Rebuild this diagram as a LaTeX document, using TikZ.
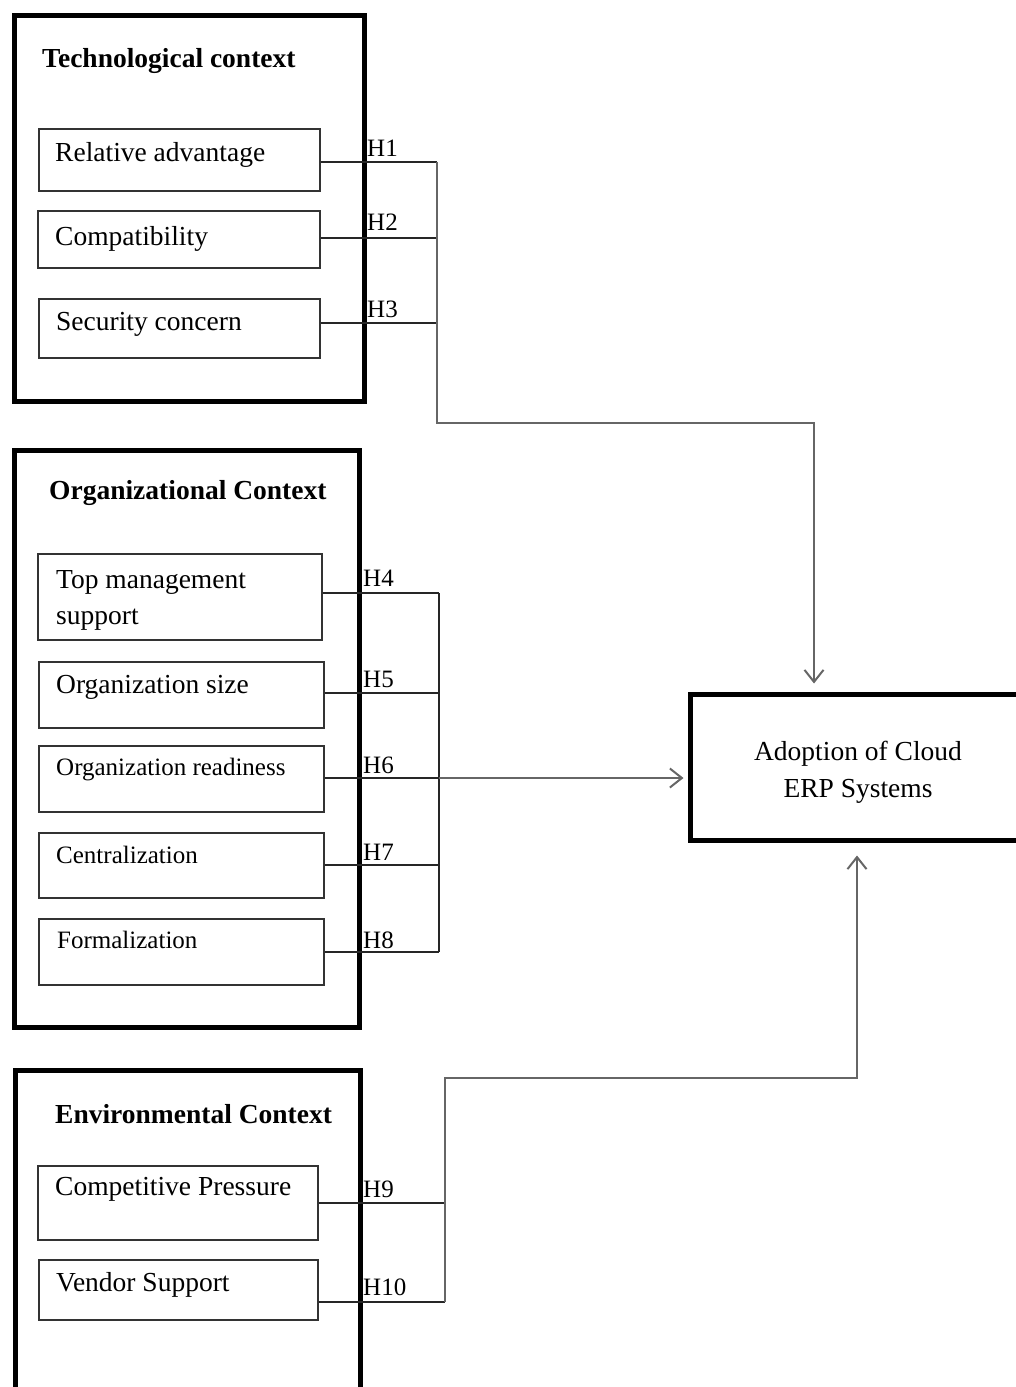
\documentclass[tikz,border=0pt]{standalone}
\usepackage{fontspec}
\setmainfont{Liberation Serif}
\usetikzlibrary{arrows.meta}
\begin{document}
\begin{tikzpicture}[x=1pt,y=-1pt,
  ctxbox/.style={draw=black, line width=5pt, anchor=north west, inner sep=0pt},
  itembox/.style={draw=black!80, line width=1.8pt, anchor=north west, inner sep=0pt},
  ttl/.style={anchor=base west, inner sep=0pt, font=\fontsize{27.5}{33}\selectfont\bfseries},
  itm/.style={anchor=base west, inner sep=0pt, font=\fontsize{27.5}{35}\selectfont},
  itms/.style={anchor=base west, inner sep=0pt, font=\fontsize{25}{30}\selectfont},
  hlab/.style={anchor=base west, inner sep=0pt, font=\fontsize{25}{30}\selectfont},
  link/.style={draw=black!85, line width=1.6pt},
  feed/.style={draw=black!60, line width=2pt, -{Straight Barb[length=12pt,width=19pt]}}
]
\useasboundingbox (0,0) rectangle (1016,1387);
\clip (0,0) rectangle (1016,1387);

% ---------- Technological context ----------
\node[ctxbox, minimum width=350pt, minimum height=386pt] (tech) at (12,13) {};
\node[ttl] (techT) at (42,67) {Technological context};
\node[itembox, minimum width=281pt, minimum height=62pt] (ra) at (38,128) {};
\node[itm] (raT) at (55,161) {Relative advantage};
\node[itembox, minimum width=282pt, minimum height=57pt] (cp) at (37,210) {};
\node[itm] (cpT) at (55,245) {Compatibility};
\node[itembox, minimum width=281pt, minimum height=59pt] (sc) at (38,298) {};
\node[itm] (scT) at (56,330) {Security concern};

% ---------- Organizational context ----------
\node[ctxbox, minimum width=345pt, minimum height=577pt] (org) at (12,448) {};
\node[ttl] (orgT) at (49,499) {Organizational Context};
\node[itembox, minimum width=284pt, minimum height=86pt] (tm) at (37,553) {};
\node[itm, anchor=north west, align=left, font=\fontsize{27.5}{36}\selectfont]
     (tmT) at (56,570) {Top management\\support};
\node[itembox, minimum width=285pt, minimum height=66pt] (os) at (38,661) {};
\node[itm] (osT) at (56,693) {Organization size};
\node[itembox, minimum width=285pt, minimum height=66pt] (or) at (38,745) {};
\node[itms] (orT) at (56,775) {Organization readiness};
\node[itembox, minimum width=285pt, minimum height=65pt] (ce) at (38,832) {};
\node[itms] (ceT) at (56,863) {Centralization};
\node[itembox, minimum width=285pt, minimum height=66pt] (fo) at (38,918) {};
\node[itms] (foT) at (57,948) {Formalization};

% ---------- Environmental context ----------
\node[ctxbox, minimum width=345pt, minimum height=340pt] (env) at (13,1068) {};
\node[ttl] (envT) at (55,1123) {Environmental Context};
\node[itembox, minimum width=280pt, minimum height=74pt] (cpr) at (37,1165) {};
\node[itm] (cprT) at (55,1195) {Competitive Pressure};
\node[itembox, minimum width=279pt, minimum height=60pt] (vs) at (38,1259) {};
\node[itm] (vsT) at (56,1291) {Vendor Support};

% ---------- Outcome ----------
\node[draw=black, line width=5pt, minimum width=336pt, minimum height=146pt] (adopt) at (858,767) {};
\node[align=center, inner sep=0pt, font=\fontsize{27.5}{37}\selectfont] (adoptT) at (858,772)
      {Adoption of Cloud\\ERP Systems};

% ---------- Junction points ----------
\coordinate (tj) at (437,162);
\coordinate (tc) at (437,423);
\coordinate (tk) at (814,423);
\coordinate (oj) at (439,593);
\coordinate (ob) at (439,952);
\coordinate (ej) at (445,1302);
\coordinate (ec) at (445,1078);
\coordinate (ek) at (857,1078);

% ---------- Hypothesis links ----------
\draw[link] (ra.east |- tj) -- (tj);
\draw[link] (cp.east |- 0,238) -- (437,238);
\draw[link] (sc.east |- 0,323) -- (437,323);
\draw[feed] (tj) -- (tc) -- (tk) -- ([yshift=8pt]adopt.north -| tk);

\draw[link] (tm.east |- oj) -- (oj);
\draw[link] (os.east |- 0,693) -- (439,693);
\draw[link] (or.east |- 0,778) -- (439,778);
\draw[link] (ce.east |- 0,865) -- (439,865);
\draw[link] (fo.east |- ob) -- (ob);
\draw[link] (oj) -- (ob);
\draw[feed] (439,778) -- ([xshift=-4pt]adopt.west |- 0,778);

\draw[link] (cpr.east |- 0,1203) -- (445,1203);
\draw[link] (vs.east |- ej) -- (ej);
\draw[feed] (ej) -- (ec) -- (ek) -- ([yshift=-13pt]adopt.south -| ek);

% ---------- Hypothesis labels ----------
\node[hlab] (h1) at (367,156) {H1};
\node[hlab] (h2) at (367,230) {H2};
\node[hlab] (h3) at (367,317) {H3};
\node[hlab] (h4) at (363,586) {H4};
\node[hlab] (h5) at (363,687) {H5};
\node[hlab] (h6) at (363,773) {H6};
\node[hlab] (h7) at (363,860) {H7};
\node[hlab] (h8) at (363,948) {H8};
\node[hlab] (h9) at (363,1197) {H9};
\node[hlab] (h10) at (363,1295) {H10};
\end{tikzpicture}
\end{document}
